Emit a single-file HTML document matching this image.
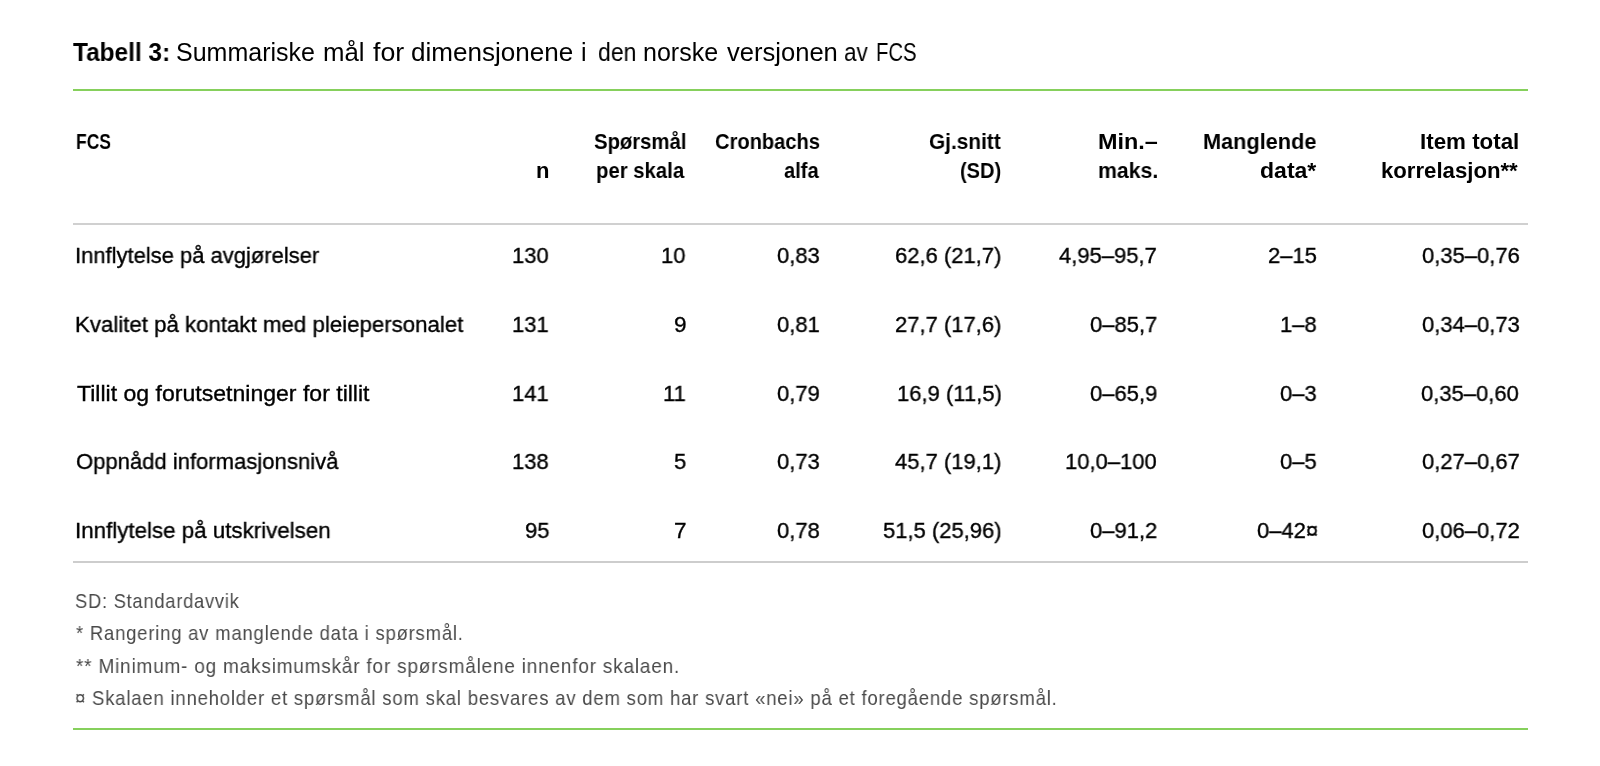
<!DOCTYPE html>
<html><head><meta charset="utf-8"><style>
html,body{margin:0;padding:0;background:#fff;width:1600px;height:766px;overflow:hidden;position:relative}
.t{position:absolute;will-change:transform;white-space:pre;line-height:1;font-family:"Liberation Sans", sans-serif;transform-origin:0 0}
.ln{position:absolute;left:73px;width:1455px}
</style></head><body>
<div class="ln" style="top:89px;height:2px;background:#86d05c"></div>
<div class="ln" style="top:223px;height:2px;background:#d0d0d0"></div>
<div class="ln" style="top:561px;height:2px;background:#cdcdcd"></div>
<div class="ln" style="top:728px;height:2px;background:#86d05c"></div>
<div class="t" style="left:73.10px;top:40px;font-size:25px;font-weight:700;color:#000;transform:scaleX(0.9760)">Tabell 3:</div>
<div class="t" style="left:176.10px;top:40px;font-size:25px;font-weight:400;color:#000;transform:scaleX(0.9971)">Summariske</div>
<div class="t" style="left:323.37px;top:40px;font-size:25px;font-weight:400;color:#000;transform:scaleX(1.0316)">mål</div>
<div class="t" style="left:373.00px;top:40px;font-size:25px;font-weight:400;color:#000;transform:scaleX(1.0690)">for</div>
<div class="t" style="left:410.86px;top:40px;font-size:25px;font-weight:400;color:#000;transform:scaleX(1.0422)">dimensjonene</div>
<div class="t" style="left:581.00px;top:40px;font-size:25px;font-weight:400;color:#000">i</div>
<div class="t" style="left:597.68px;top:40px;font-size:25px;font-weight:400;color:#000;transform:scaleX(0.9205)">den</div>
<div class="t" style="left:643.41px;top:40px;font-size:25px;font-weight:400;color:#000;transform:scaleX(0.9945)">norske</div>
<div class="t" style="left:726.60px;top:40px;font-size:25px;font-weight:400;color:#000;transform:scaleX(1.0224)">versjonen</div>
<div class="t" style="left:844.20px;top:40px;font-size:25px;font-weight:400;color:#000;transform:scaleX(0.8962)">av</div>
<div class="t" style="left:876.37px;top:40px;font-size:25px;font-weight:400;color:#000;transform:scaleX(0.8128)">FCS</div>
<div class="t" style="left:75.60px;top:131px;font-size:22px;font-weight:700;color:#000;transform:scaleX(0.7952)">FCS</div>
<div class="t" style="left:535.90px;top:160px;font-size:22px;font-weight:700;color:#000">n</div>
<div class="t" style="left:593.75px;top:131px;font-size:22px;font-weight:700;color:#000;transform:scaleX(0.9217)">Spørsmål</div>
<div class="t" style="left:596.33px;top:160px;font-size:22px;font-weight:700;color:#000;transform:scaleX(0.9237)">per skala</div>
<div class="t" style="left:715.49px;top:131px;font-size:22px;font-weight:700;color:#000;transform:scaleX(0.9133)">Cronbachs</div>
<div class="t" style="left:784.00px;top:160px;font-size:22px;font-weight:700;color:#000;transform:scaleX(0.9128)">alfa</div>
<div class="t" style="left:929.05px;top:131px;font-size:22px;font-weight:700;color:#000;transform:scaleX(0.9467)">Gj.snitt</div>
<div class="t" style="left:960.09px;top:160px;font-size:22px;font-weight:700;color:#000;transform:scaleX(0.9091)">(SD)</div>
<div class="t" style="left:1097.94px;top:131px;font-size:22px;font-weight:700;color:#000;transform:scaleX(1.0636)">Min.–</div>
<div class="t" style="left:1098.03px;top:160px;font-size:22px;font-weight:700;color:#000;transform:scaleX(0.9667)">maks.</div>
<div class="t" style="left:1203.01px;top:131px;font-size:22px;font-weight:700;color:#000;transform:scaleX(0.9868)">Manglende</div>
<div class="t" style="left:1259.95px;top:160px;font-size:22px;font-weight:700;color:#000;transform:scaleX(1.0472)">data*</div>
<div class="t" style="left:1419.98px;top:131px;font-size:22px;font-weight:700;color:#000;transform:scaleX(1.0156)">Item total</div>
<div class="t" style="left:1381.49px;top:160px;font-size:22px;font-weight:700;color:#000;transform:scaleX(1.0074)">korrelasjon**</div>
<div class="t" style="left:74.55px;top:245px;font-size:22.5px;font-weight:400;color:#000;-webkit-text-stroke:0.35px #000;transform:scaleX(0.9768)">Innflytelse på avgjørelser</div>
<div class="t" style="left:512.31px;top:245px;font-size:22.5px;font-weight:400;color:#000;-webkit-text-stroke:0.35px #000;transform:scaleX(0.9780)">130</div>
<div class="t" style="left:661.25px;top:245px;font-size:22.5px;font-weight:400;color:#000;-webkit-text-stroke:0.35px #000;transform:scaleX(0.9780)">10</div>
<div class="t" style="left:777.25px;top:245px;font-size:22.5px;font-weight:400;color:#000;-webkit-text-stroke:0.35px #000;transform:scaleX(0.9780)">0,83</div>
<div class="t" style="left:894.68px;top:245px;font-size:22.5px;font-weight:400;color:#000;-webkit-text-stroke:0.35px #000;transform:scaleX(0.9780)">62,6 (21,7)</div>
<div class="t" style="left:1059.18px;top:245px;font-size:22.5px;font-weight:400;color:#000;-webkit-text-stroke:0.35px #000;transform:scaleX(0.9780)">4,95–95,7</div>
<div class="t" style="left:1268.48px;top:245px;font-size:22.5px;font-weight:400;color:#000;-webkit-text-stroke:0.35px #000;transform:scaleX(0.9780)">2–15</div>
<div class="t" style="left:1421.68px;top:245px;font-size:22.5px;font-weight:400;color:#000;-webkit-text-stroke:0.35px #000;transform:scaleX(0.9780)">0,35–0,76</div>
<div class="t" style="left:74.52px;top:314px;font-size:22.5px;font-weight:400;color:#000;-webkit-text-stroke:0.35px #000;transform:scaleX(0.9887)">Kvalitet på kontakt med pleiepersonalet</div>
<div class="t" style="left:512.31px;top:314px;font-size:22.5px;font-weight:400;color:#000;-webkit-text-stroke:0.35px #000;transform:scaleX(0.9780)">131</div>
<div class="t" style="left:673.96px;top:314px;font-size:22.5px;font-weight:400;color:#000;-webkit-text-stroke:0.35px #000;transform:scaleX(0.9780)">9</div>
<div class="t" style="left:777.25px;top:314px;font-size:22.5px;font-weight:400;color:#000;-webkit-text-stroke:0.35px #000;transform:scaleX(0.9780)">0,81</div>
<div class="t" style="left:894.68px;top:314px;font-size:22.5px;font-weight:400;color:#000;-webkit-text-stroke:0.35px #000;transform:scaleX(0.9780)">27,7 (17,6)</div>
<div class="t" style="left:1089.50px;top:314px;font-size:22.5px;font-weight:400;color:#000;-webkit-text-stroke:0.35px #000;transform:scaleX(0.9780)">0–85,7</div>
<div class="t" style="left:1280.21px;top:314px;font-size:22.5px;font-weight:400;color:#000;-webkit-text-stroke:0.35px #000;transform:scaleX(0.9780)">1–8</div>
<div class="t" style="left:1421.68px;top:314px;font-size:22.5px;font-weight:400;color:#000;-webkit-text-stroke:0.35px #000;transform:scaleX(0.9780)">0,34–0,73</div>
<div class="t" style="left:76.50px;top:383px;font-size:22.5px;font-weight:400;color:#000;-webkit-text-stroke:0.35px #000;transform:scaleX(1.0245)">Tillit og forutsetninger for tillit</div>
<div class="t" style="left:512.31px;top:383px;font-size:22.5px;font-weight:400;color:#000;-webkit-text-stroke:0.35px #000;transform:scaleX(0.9780)">141</div>
<div class="t" style="left:663.21px;top:383px;font-size:22.5px;font-weight:400;color:#000;-webkit-text-stroke:0.35px #000;transform:scaleX(0.9780)">11</div>
<div class="t" style="left:777.25px;top:383px;font-size:22.5px;font-weight:400;color:#000;-webkit-text-stroke:0.35px #000;transform:scaleX(0.9780)">0,79</div>
<div class="t" style="left:896.63px;top:383px;font-size:22.5px;font-weight:400;color:#000;-webkit-text-stroke:0.35px #000;transform:scaleX(0.9780)">16,9 (11,5)</div>
<div class="t" style="left:1089.50px;top:383px;font-size:22.5px;font-weight:400;color:#000;-webkit-text-stroke:0.35px #000;transform:scaleX(0.9780)">0–65,9</div>
<div class="t" style="left:1280.21px;top:383px;font-size:22.5px;font-weight:400;color:#000;-webkit-text-stroke:0.35px #000;transform:scaleX(0.9780)">0–3</div>
<div class="t" style="left:1420.70px;top:383px;font-size:22.5px;font-weight:400;color:#000;-webkit-text-stroke:0.35px #000;transform:scaleX(0.9780)">0,35–0,60</div>
<div class="t" style="left:75.52px;top:451px;font-size:22.5px;font-weight:400;color:#000;-webkit-text-stroke:0.35px #000;transform:scaleX(0.9801)">Oppnådd informasjonsnivå</div>
<div class="t" style="left:512.31px;top:451px;font-size:22.5px;font-weight:400;color:#000;-webkit-text-stroke:0.35px #000;transform:scaleX(0.9780)">138</div>
<div class="t" style="left:673.96px;top:451px;font-size:22.5px;font-weight:400;color:#000;-webkit-text-stroke:0.35px #000;transform:scaleX(0.9780)">5</div>
<div class="t" style="left:777.25px;top:451px;font-size:22.5px;font-weight:400;color:#000;-webkit-text-stroke:0.35px #000;transform:scaleX(0.9780)">0,73</div>
<div class="t" style="left:894.68px;top:451px;font-size:22.5px;font-weight:400;color:#000;-webkit-text-stroke:0.35px #000;transform:scaleX(0.9780)">45,7 (19,1)</div>
<div class="t" style="left:1065.05px;top:451px;font-size:22.5px;font-weight:400;color:#000;-webkit-text-stroke:0.35px #000;transform:scaleX(0.9780)">10,0–100</div>
<div class="t" style="left:1280.21px;top:451px;font-size:22.5px;font-weight:400;color:#000;-webkit-text-stroke:0.35px #000;transform:scaleX(0.9780)">0–5</div>
<div class="t" style="left:1421.68px;top:451px;font-size:22.5px;font-weight:400;color:#000;-webkit-text-stroke:0.35px #000;transform:scaleX(0.9780)">0,27–0,67</div>
<div class="t" style="left:74.51px;top:520px;font-size:22.5px;font-weight:400;color:#000;-webkit-text-stroke:0.35px #000;transform:scaleX(0.9929)">Innflytelse på utskrivelsen</div>
<div class="t" style="left:525.03px;top:520px;font-size:22.5px;font-weight:400;color:#000;-webkit-text-stroke:0.35px #000;transform:scaleX(0.9780)">95</div>
<div class="t" style="left:673.96px;top:520px;font-size:22.5px;font-weight:400;color:#000;-webkit-text-stroke:0.35px #000;transform:scaleX(0.9780)">7</div>
<div class="t" style="left:777.25px;top:520px;font-size:22.5px;font-weight:400;color:#000;-webkit-text-stroke:0.35px #000;transform:scaleX(0.9780)">0,78</div>
<div class="t" style="left:882.94px;top:520px;font-size:22.5px;font-weight:400;color:#000;-webkit-text-stroke:0.35px #000;transform:scaleX(0.9780)">51,5 (25,96)</div>
<div class="t" style="left:1089.50px;top:520px;font-size:22.5px;font-weight:400;color:#000;-webkit-text-stroke:0.35px #000;transform:scaleX(0.9780)">0–91,2</div>
<div class="t" style="left:1256.74px;top:520px;font-size:22.5px;font-weight:400;color:#000;-webkit-text-stroke:0.35px #000;transform:scaleX(0.9780)">0–42¤</div>
<div class="t" style="left:1421.68px;top:520px;font-size:22.5px;font-weight:400;color:#000;-webkit-text-stroke:0.35px #000;transform:scaleX(0.9780)">0,06–0,72</div>
<div class="t" style="left:74.63px;top:590px;font-size:21px;font-weight:400;color:#4a4a4a;letter-spacing:0.9px;transform:scaleX(0.8701)">SD: Standardavvik</div>
<div class="t" style="left:75.80px;top:622px;font-size:21px;font-weight:400;color:#4a4a4a;letter-spacing:0.9px;transform:scaleX(0.8795)">* Rangering av manglende data i spørsmål.</div>
<div class="t" style="left:75.80px;top:655px;font-size:21px;font-weight:400;color:#4a4a4a;letter-spacing:0.9px;transform:scaleX(0.9032)">** Minimum- og maksimumskår for spørsmålene innenfor skalaen.</div>
<div class="t" style="left:74.92px;top:687px;font-size:21px;font-weight:400;color:#4a4a4a;letter-spacing:0.9px;transform:scaleX(0.8822)">¤ Skalaen inneholder et spørsmål som skal besvares av dem som har svart «nei» på et foregående spørsmål.</div>
</body></html>
